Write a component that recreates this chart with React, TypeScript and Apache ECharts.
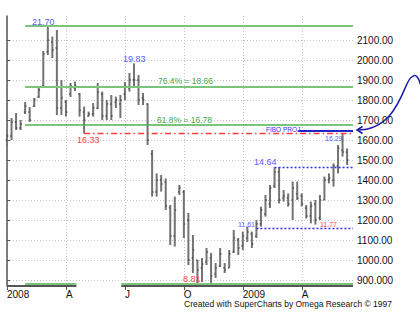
import React, { useEffect, useRef } from "react";
import * as echarts from "echarts";

// ---- data (prices x100, weekly bars Jan 2008 - May 2009) ----
const opens = [1600,1620,1690,1660,1740,1740,1770,1815,1870,2040,2090,2060,1760,1790,1830,1860,1830,1740,1720,1730,1760,1830,1720,1780,1790,1780,1830,1860,1900,1900,1810,1780,1530,1340,1400,1390,1260,1120,1340,1340,1200,1010,1000,960,990,1010,930,970,960,960,1040,1100,1070,1110,1130,1120,1180,1230,1280,1370,1440,1310,1310,1300,1330,1320,1260,1220,1280,1210,1300,1400,1400,1470,1550,1540];
const highs = [1640,1710,1735,1700,1790,1765,1810,1865,2045,2170,2117,2150,1900,1800,1885,1892,1835,1767,1742,1785,1885,1842,1800,1825,1817,1825,1890,1935,1983,1925,1835,1783,1550,1433,1425,1408,1275,1317,1375,1350,1235,1125,1000,1010,1060,1035,985,1060,985,1050,1150,1110,1142,1167,1142,1200,1267,1325,1375,1464,1464,1350,1333,1392,1392,1333,1275,1292,1300,1325,1417,1433,1483,1575,1629,1558];
const lows = [1572,1600,1650,1650,1730,1690,1765,1810,1865,2025,2010,1725,1725,1717,1815,1845,1717,1633,1717,1717,1755,1700,1700,1700,1760,1710,1800,1842,1867,1775,1775,1575,1317,1317,1342,1250,1075,1067,1325,1110,975,935,885,890,975,881,910,965,935,960,1035,1025,1050,1090,1060,1110,1167,1217,1260,1360,1283,1292,1267,1200,1300,1267,1208,1183,1177,1200,1300,1383,1367,1433,1517,1475];
const closes = [1620,1690,1660,1680,1770,1700,1800,1850,2030,2100,2050,1760,1810,1740,1870,1870,1750,1700,1730,1760,1840,1720,1780,1720,1800,1800,1870,1900,1900,1800,1800,1600,1340,1400,1380,1270,1120,1250,1360,1180,1000,1050,950,980,1040,920,960,1030,950,1030,1110,1060,1120,1140,1080,1180,1250,1300,1360,1440,1300,1320,1280,1360,1310,1280,1220,1270,1200,1300,1400,1410,1470,1560,1540,1500];

const quarterLabels = ["2008", "A", "J", "O", "2009", "A"];
const weeksPerQuarter = 13;
const yTickValues = [900, 1000, 1100, 1200, 1300, 1400, 1500, 1600, 1700, 1800, 1900, 2000, 2100];

const fiboLevels = [2170, 1866, 1678, 881]; // 21.70, 76.4%, 61.8%, 8.81
const fiboStart = 4;
const supportLevel = 1633; // 16.33
const supportStart = 17;
const projLevel = 1645; // FIBO PROJ
const projStart = 64.2;
const swingHighLevel = 1464; // 14.64
const swingHighStart = 59;
const swingLowLevel = 1161; // 11.61
const swingLowStart = 55;
const brokenSpan = [15.3, 25.2];

const X_MAX = 76.3;
const Y_MIN = 870;
const Y_MAX = 2220;

const FF = '"Liberation Sans", Arial, sans-serif';
const quarterTicks = quarterLabels.map((_, i) => i * weeksPerQuarter);

export default function App() {
  const ref = useRef<HTMLDivElement>(null);
  useEffect(() => {
    const chart = echarts.init(ref.current!, null, { renderer: "svg" });
    const bars = opens.map((o, i) => [i, o, highs[i], lows[i], closes[i]]);

    const seg = (from: number, to: number, v: number, color: string, width: number, type: any) => [
      { coord: [from, v], lineStyle: { color, width, type } },
      { coord: [to, v] },
    ];
    const green = "#7cc47c";
    const lineData: any[] = [
      seg(fiboStart, X_MAX, fiboLevels[0], green, 2, "solid"),
      seg(fiboStart, X_MAX, fiboLevels[1], green, 2, "solid"),
      seg(fiboStart, X_MAX, fiboLevels[2], "#4fb04f", 1.5, "solid"),
      seg(fiboStart, brokenSpan[0], fiboLevels[3], green, 2, "solid"),
      seg(brokenSpan[1], X_MAX, fiboLevels[3], green, 2, "solid"),
      seg(supportStart, X_MAX, supportLevel, "#ff3a3a", 1.3, [6, 3, 1.5, 3]),
      seg(projStart, X_MAX, projLevel, "#2323c8", 2, "solid"),
      seg(swingHighStart, X_MAX, swingHighLevel, "#2f2fff", 1.3, [2, 2]),
      seg(swingLowStart, X_MAX, swingLowLevel, "#2f2fff", 1.3, [2, 2]),
      seg(0, brokenSpan[0], Y_MIN, "#555555", 2, "solid"),
      seg(brokenSpan[1], X_MAX, Y_MIN, "#555555", 2, "solid"),
    ];

    const txt = (text: string, x: number, y: number, size: number, fill: string) => ({
      type: "text",
      z: 100,
      style: {
        text,
        x,
        y,
        fill,
        font: `${size}px ${FF}`,
        textAlign: "left",
        textVerticalAlign: "middle",
        verticalAlign: "middle",
      },
    });
    const blue = "#5a5aff";
    const red = "#ff4545";

    chart.setOption({
      animation: false,
      backgroundColor: "#ffffff",
      grid: { left: 7, right: 67, top: 16, bottom: 39 },
      xAxis: {
        type: "value",
        min: 0,
        max: X_MAX,
        axisLine: { show: false },
        axisTick: { show: true, length: 4, customValues: quarterTicks, lineStyle: { color: "#555", width: 1 } },
        axisLabel: {
          customValues: quarterTicks,
          formatter: (v: number) => quarterLabels[Math.round(v / weeksPerQuarter)] ?? "",
          align: "left",
          margin: 3,
          fontSize: 10,
          color: "#111",
          fontFamily: FF,
          hideOverlap: false,
        },
        splitLine: { show: true, lineStyle: { color: "#c4c4c4", width: 1, type: [1, 2] } },
      },
      yAxis: {
        type: "value",
        position: "right",
        min: Y_MIN,
        max: Y_MAX,
        axisLine: { show: true, lineStyle: { color: "#555", width: 1.5 } },
        axisTick: { show: true, length: 3, customValues: yTickValues, lineStyle: { color: "#555" } },
        axisLabel: {
          customValues: yTickValues,
          formatter: (v: number) => v.toFixed(3),
          margin: 4,
          fontSize: 10,
          color: "#111",
          fontFamily: FF,
          width: 39,
          overflow: "truncate",
          ellipsis: "",
        },
        splitLine: { show: true, lineStyle: { color: "#c4c4c4", width: 1, type: [1, 2] } },
      },
      series: [
        {
          type: "line",
          data: [],
          z: 1,
          silent: true,
          markLine: {
            silent: true,
            symbol: ["none", "none"],
            label: { show: false },
            animation: false,
            data: lineData,
          },
        },
        {
          type: "custom",
          z: 3,
          clip: false,
          data: bars,
          encode: { x: 0, y: [1, 2, 3, 4] },
          renderItem: (params: any, api: any) => {
            const x = api.value(0);
            const pH = api.coord([x, api.value(2)]);
            const pL = api.coord([x, api.value(3)]);
            const pO = api.coord([x, api.value(1)]);
            const pC = api.coord([x, api.value(4)]);
            return {
              type: "group",
              children: [
                { type: "line", shape: { x1: pH[0], y1: pH[1], x2: pL[0], y2: pL[1] }, style: { stroke: "#737373", lineWidth: 2 } },
                { type: "line", shape: { x1: pO[0] - 1.4, y1: pO[1], x2: pO[0], y2: pO[1] }, style: { stroke: "#333", lineWidth: 1 } },
                { type: "line", shape: { x1: pC[0], y1: pC[1], x2: pC[0] + 1.4, y2: pC[1] }, style: { stroke: "#333", lineWidth: 1 } },
              ],
            };
          },
        },
      ],
      graphic: [
        txt("21.70", 32, 21.5, 9, blue),
        txt("19.83", 123, 59, 9, blue),
        txt("76.4% = 18.66", 158, 81, 8.5, "#47a847"),
        txt("61.8% = 16.78", 157, 119.5, 8.5, "#47a847"),
        txt("16.33", 77, 139.5, 9, red),
        txt("FIBO PROJ", 266, 129.5, 6.5, "#3030ff"),
        txt("16.29", 325, 138, 7, blue),
        txt("14.64", 254, 162, 9, blue),
        txt("11.61", 238, 224.5, 7, blue),
        txt("11.77", 320, 224, 7, red),
        txt("8.81", 183, 279, 9, red),
        txt("Created with SuperCharts by Omega Research \u00a9 1997", 184, 304, 8.5, "#111"),
        {
          type: "bezierCurve",
          z: 100,
          shape: { x1: 357, y1: 130, cpx1: 400, cpy1: 130, cpx2: 404, cpy2: 78, x2: 412, y2: 77 },
          style: { stroke: "#1c1ca8", lineWidth: 1.5, fill: "none" },
        },
        {
          type: "bezierCurve",
          z: 100,
          shape: { x1: 412, y1: 77, cpx1: 416, cpy1: 73, cpx2: 419, cpy2: 78, x2: 421, y2: 86 },
          style: { stroke: "#1c1ca8", lineWidth: 1.5, fill: "none" },
        },
        {
          type: "polyline",
          z: 100,
          shape: { points: [[362.5, 126.5], [357, 130], [362.5, 133.5]] },
          style: { stroke: "#1c1ca8", lineWidth: 1.5, fill: "none" },
        },
      ],
    });
    return () => chart.dispose();
  }, []);
  return <div ref={ref} style={{ width: 420, height: 325, position: "absolute", left: 0, top: 0 }} />;
}
